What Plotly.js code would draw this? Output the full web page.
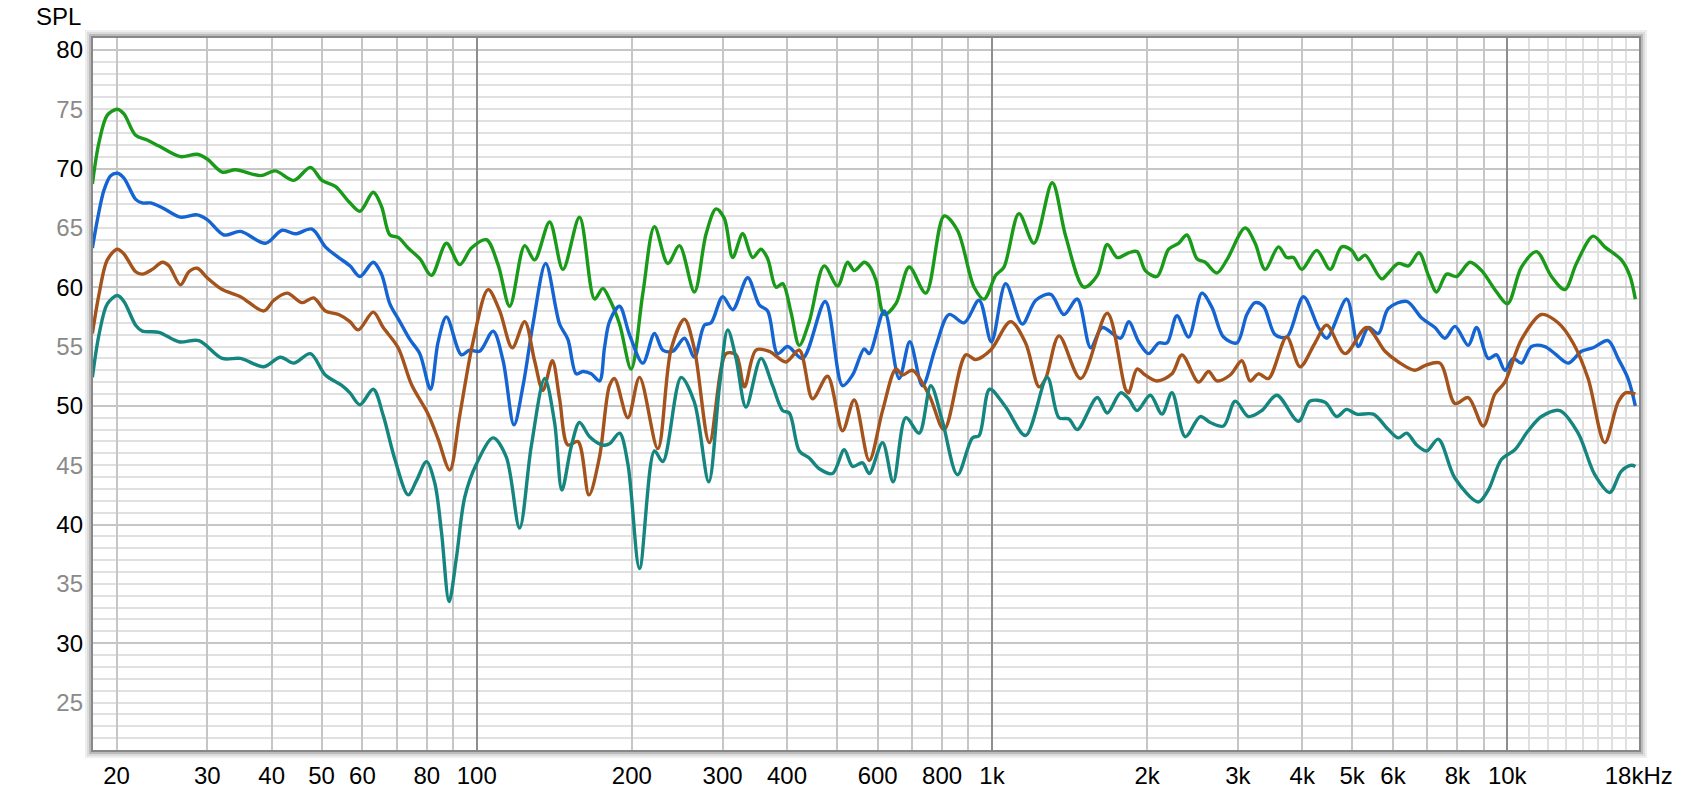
<!DOCTYPE html>
<html>
<head>
<meta charset="utf-8">
<script src="https://cdn.plot.ly/plotly-3.0.1.min.js"></script>
<style>html,body{margin:0;padding:0;background:#fff;}#chart{width:1684px;height:800px;}</style>
</head>
<body>
<div id="chart"></div>
<script>
// ---------- data (frequency in Hz, SPL in dB) ----------
const greenFreq = [17.95,18.49,19.19,20.07,20.67,21.78,22.94,24.17,26.61,28.68,29.98,32.07,34.03,38.05,40.67,44.14,47.55,50.09,53.17,56.5,59.33,62.97,65.35,67.83,70.39,73.61,77.54,81.68,87.34,92.69,97.64,104.4,110.0,115.9,123.9,129.5,138.5,147.0,158.3,169.3,175.7,181.0,189.3,199.4,210.1,221.3,234.9,247.4,264.5,278.7,291.4,302.4,313.9,328.2,343.2,356.2,367.0,380.9,392.4,407.2,422.7,441.9,472.5,501.5,524.4,540.3,564.9,577.8,595.3,617.8,650.8,690.7,744.0,807.4,856.9,923.3,965.2,1017,1055,1128,1206,1309,1390,1508,1601,1674,1750,1842,1912,1984,2090,2202,2302,2390,2499,2593,2732,2856,3100,3241,3389,3597,3733,3846,3992,4268,4530,4772,4990,5141,5296,5705,5879,6148,6428,6741,7028,7294,7627,7975,8463,8916,9533,10012,10657,11395,12184,12932,13622,14675,15459,16652,17284,17726];
const greenSpl = [68.7,72.2,74.5,75.0,74.6,72.8,72.4,71.9,71.0,71.2,70.8,69.7,69.9,69.4,69.8,69.0,70.1,69.0,68.5,67.2,66.4,68.0,66.8,64.4,64.2,63.3,62.4,61.0,63.7,61.9,63.3,64.0,61.9,58.4,63.5,62.3,65.5,61.5,65.9,59.0,59.9,59.0,56.9,53.1,59.5,65.1,62.0,63.5,59.6,64.5,66.6,65.8,62.5,64.5,62.5,63.2,62.4,60.0,60.3,57.9,55.1,57.1,61.8,60.1,62.1,61.4,62.1,61.8,60.6,57.7,58.6,61.7,59.5,66.0,64.8,60.0,59.0,61.0,61.7,66.2,63.7,68.8,64.3,60.0,61.0,63.6,62.5,62.9,63.0,61.4,60.9,63.2,63.7,64.4,62.4,62.1,61.2,62.3,65.0,63.7,61.5,63.4,62.5,62.5,61.5,63.1,61.5,63.4,63.1,62.3,62.7,60.7,61.2,62.0,61.8,62.9,61.0,59.6,61.1,60.9,62.1,61.4,59.6,58.6,61.7,63.0,60.9,59.8,62.0,64.3,63.4,62.3,61.0,59.0];

const blueFreq = [17.95,18.36,18.91,19.48,20.07,20.67,21.78,22.44,23.29,24.53,26.61,28.68,29.98,32.32,34.79,38.90,41.90,44.47,47.91,50.84,53.96,56.74,59.33,62.97,65.35,67.83,70.92,74.16,77.54,81.32,84.15,87.34,93.38,96.92,101.3,107.6,112.5,118.1,123.0,128.6,136.1,144.8,150.3,156.0,160.7,166.8,173.1,177.0,181.0,189.3,197.9,210.1,221.3,229.7,240.2,253.0,264.5,276.6,285.0,300.2,313.9,335.6,353.6,367.0,383.7,401.2,429.0,474.7,512.8,536.3,564.9,577.8,617.8,660.5,692.7,733.0,777.9,825.6,882.8,943.9,997.3,1063,1145,1216,1300,1379,1464,1554,1637,1776,1842,1926,2014,2106,2186,2285,2408,2555,2672,2814,2987,3123,3241,3364,3544,3733,4022,4300,4463,4880,5141,5375,5621,5877,6380,6821,7239,7570,7916,8401,8719,9185,9533,9894,10269,10657,11144,11827,12367,13125,13930,14675,15690,16407,17156,17726];
const blueSpl = [63.3,65.7,68.2,69.4,69.6,69.2,67.4,67.1,67.1,66.7,65.9,66.1,65.7,64.4,64.7,63.7,64.8,64.5,64.9,63.4,62.5,61.8,60.9,62.1,61.1,58.6,57.1,55.6,54.4,51.4,55.4,57.5,54.3,54.7,54.6,56.3,53.8,48.4,51.7,56.9,62.0,56.9,55.6,52.7,52.9,52.7,52.1,54.9,57.1,58.4,56.0,53.6,56.1,54.7,54.6,55.7,54.1,56.8,57.0,59.2,58.1,60.8,58.5,58.0,54.4,55.0,54.0,58.8,51.7,52.6,54.8,54.4,58.0,52.3,55.4,51.7,55.0,57.7,57.0,58.9,55.4,60.3,56.9,58.9,59.4,57.7,59.0,54.9,56.6,55.7,57.1,55.4,54.4,55.3,55.3,57.6,55.8,59.5,58.3,55.8,55.3,57.7,58.7,58.4,56.0,55.8,59.2,56.6,55.7,59.0,55.0,56.6,56.1,58.2,58.8,57.4,56.6,55.7,56.7,55.1,56.6,54.0,54.3,53.0,54.0,53.6,55.0,55.0,54.4,53.6,54.6,54.9,55.5,54.0,52.3,50.0];

const brownFreq = [17.95,18.49,19.19,20.07,20.67,21.78,22.44,23.46,24.53,25.27,26.61,27.63,28.68,29.98,32.07,34.79,38.62,40.38,42.85,45.82,48.26,50.84,53.96,56.74,58.89,62.97,65.84,70.39,74.71,80.48,84.15,88.65,92.69,98.37,105.2,110.8,117.2,123.9,129.5,134.4,140.2,144.8,150.3,157.2,165.1,173.1,181.0,185.1,196.5,207.0,224.6,238.4,253.0,264.5,282.9,304.7,318.6,330.7,348.3,369.7,398.2,422.7,448.6,479.6,512.8,540.3,577.7,613.2,650.8,670.4,701.0,755.2,807.4,889.4,930.0,994.3,1087,1162,1234,1271,1349,1486,1674,1816,1842,1912,1984,2090,2235,2337,2517,2632,2732,2899,3054,3170,3290,3440,3733,3962,4236,4463,4844,5335,5790,6148,6622,6924,7403,7916,8401,8983,9462,9894,10657,11653,12552,13421,14351,15459,16407,16952,17726];
const brownSpl = [56.1,59.4,62.3,63.2,62.8,61.3,61.1,61.5,62.1,61.8,60.2,61.3,61.6,60.8,59.8,59.2,58.0,58.9,59.5,58.7,59.1,58.0,57.7,57.1,56.4,57.9,56.6,54.9,51.8,49.3,47.2,44.6,49.2,55.4,59.8,58.0,54.9,57.1,53.8,51.3,53.8,50.6,46.7,47.0,42.5,45.7,51.7,52.3,49.0,52.4,46.4,54.8,57.3,54.8,46.9,54.4,54.3,51.6,54.7,54.6,53.7,54.7,50.6,52.5,47.9,50.5,45.4,49.6,53.1,52.6,53.0,50.9,48.0,54.3,53.9,54.7,57.1,55.3,51.6,52.3,55.9,52.3,57.8,51.4,51.1,53.1,52.6,52.1,52.7,54.3,52.0,52.9,52.1,52.6,53.8,52.1,52.7,52.3,55.8,53.3,55.3,56.8,54.4,56.6,54.6,53.7,53.0,53.4,53.6,50.2,50.7,48.3,51.0,52.0,55.6,57.7,57.0,55.3,52.3,46.9,50.3,51.1,51.0];

const tealFreq = [17.95,18.49,19.19,20.07,20.67,21.78,22.44,24.17,26.42,28.89,32.07,34.79,38.62,41.60,44.14,47.55,50.84,54.77,56.74,59.33,62.97,65.84,69.36,73.61,76.39,79.88,82.90,85.41,88.38,91.32,94.78,99.85,107.6,114.1,121.1,127.6,135.5,141.6,146.3,152.6,158.3,165.6,175.7,181.0,189.3,196.5,207.0,221.3,229.7,249.3,264.5,282.0,295.8,307.0,318.6,333.1,356.2,375.2,392.4,404.2,422.7,441.9,462.1,490.4,516.7,536.3,560.7,577.8,613.2,643.1,680.5,722.2,760.8,801.4,856.9,916.2,943.9,989.9,1063,1162,1280,1349,1410,1464,1601,1674,1776,1842,1912,2029,2137,2235,2372,2536,2652,2814,2965,3146,3339,3570,3933,4143,4430,4667,4880,5102,5497,5877,6148,6380,6672,6975,7348,7916,8784,9185,9747,10345,10980,11653,12646,13725,14784,15807,16652,17413,17726];
const tealSpl = [52.4,56.0,58.6,59.3,58.8,56.8,56.3,56.2,55.4,55.5,54.0,54.0,53.3,54.1,53.6,54.4,52.6,51.7,51.1,50.1,51.4,49.2,45.5,42.5,43.7,45.3,43.5,39.4,33.5,37.2,42.3,45.1,47.3,45.7,39.7,46.6,52.3,48.6,42.9,46.6,48.6,47.4,46.7,46.8,47.7,45.1,36.3,46.2,45.3,52.4,50.3,43.6,51.6,56.4,54.0,49.9,54.0,51.7,49.6,49.4,46.2,45.6,44.7,44.3,46.3,44.9,45.2,44.3,46.9,43.6,49.0,47.7,51.7,48.7,44.2,47.3,47.5,51.4,49.9,47.5,52.4,49.0,48.9,48.0,50.7,49.4,51.1,50.6,49.6,50.9,49.3,51.1,47.4,49.1,48.6,48.3,50.4,49.1,49.6,50.9,48.7,50.4,50.3,49.1,49.7,49.3,49.3,48.0,47.3,47.7,46.7,46.2,47.2,43.9,41.9,42.9,45.5,46.3,47.9,49.1,49.6,47.7,44.2,42.7,44.5,45.0,44.9];

// ---------- axis ticks ----------
const xTickVals  = [20,30,40,50,60,70,80,90,200,300,400,500,600,700,800,900,2000,3000,4000,5000,6000,7000,8000,9000,18000];
const xTickText  = ['20','30','40','50','60','','80','','200','300','400','','600','','800','','2k','3k','4k','5k','6k','','8k','','18kHz'];
const xDecadeVals = [100,1000,10000];
const xDecadeText = ['100','1k','10k'];
const xFineVals  = [11000,12000,13000,14000,15000,16000,17000];
const yMajorVals = [30,40,50,60,70,80];
const yMajorText = ['30','40','50','60','70','80'];
const yHalfVals  = [25,35,45,55,65,75];
const yHalfText  = ['25','35','45','55','65','75'];

const COL_GREEN = '#199a19', COL_BLUE = '#1464d2', COL_BROWN = '#a3531b', COL_TEAL = '#14857f';
const xRange = [Math.log10(18), Math.log10(18000) + 0.0004];
const yRange = [21, 81];

function line(x, y, color, xa, ya) {
  return {x: x, y: y, type: 'scatter', mode: 'lines', xaxis: xa, yaxis: ya,
          line: {color: color, width: 3.4, shape: 'spline', smoothing: 0.9},
          hoverinfo: 'skip'};
}
const traces = [
  line(greenFreq, greenSpl, COL_GREEN, 'x', 'y'),
  line(blueFreq, blueSpl, COL_BLUE, 'x', 'y'),
  line(brownFreq, brownSpl, COL_BROWN, 'x', 'y'),
  line(tealFreq, tealSpl, COL_TEAL, 'x2', 'y2')
];

const W = 1546, H = 712;
function frame(off, color) {
  return {type: 'rect', xref: 'paper', yref: 'paper', layer: 'above',
          x0: -off / W, x1: 1 + off / W, y0: -off / H, y1: 1 + off / H,
          line: {color: color, width: 2}, fillcolor: 'rgba(0,0,0,0)'};
}
const FONT = 'Liberation Sans, Arial, sans-serif';
const FS = 24;
const layout = {
  width: 1684, height: 800,
  margin: {l: 93, r: 45, t: 38, b: 50, pad: 0},
  paper_bgcolor: '#ffffff', plot_bgcolor: '#ffffff',
  showlegend: false, hovermode: false,
  font: {family: FONT, size: FS, color: '#000'},
  xaxis: {type: 'log', range: xRange, tickmode: 'array', tickvals: xTickVals, ticktext: xTickText,
          ticks: '', showgrid: true, gridcolor: '#c6c6c6', gridwidth: 2, zeroline: false, showline: false,
          ticklabelstandoff: 9, tickfont: {family: FONT, size: FS, color: '#000'},
          minor: {tickmode: 'array', tickvals: xFineVals, showgrid: true, gridcolor: '#e0e0e0', gridwidth: 2, ticks: ''}},
  xaxis2: {type: 'log', overlaying: 'x', side: 'bottom', range: xRange, tickmode: 'array',
           tickvals: xDecadeVals, ticktext: xDecadeText, ticks: '', showgrid: true, gridcolor: '#8e8e8e', gridwidth: 2,
           zeroline: false, showline: false, ticklabelstandoff: 9, tickfont: {family: FONT, size: FS, color: '#000'}},
  yaxis: {range: yRange, tickmode: 'array', tickvals: yMajorVals, ticktext: yMajorText, ticks: '',
          showgrid: true, gridcolor: '#c6c6c6', gridwidth: 2, zeroline: false, showline: false,
          ticklabelstandoff: 9, tickfont: {family: FONT, size: FS, color: '#000'},
          minor: {dtick: 1, tick0: 0, showgrid: true, gridcolor: '#e0e0e0', gridwidth: 2, ticks: ''}},
  yaxis2: {overlaying: 'y', side: 'left', range: yRange, tickmode: 'array', tickvals: yHalfVals, ticktext: yHalfText,
           ticks: '', showgrid: false, zeroline: false, showline: false, ticklabelstandoff: 9,
           tickfont: {family: FONT, size: FS, color: '#8a8a8a'}},
  shapes: [frame(7, '#eeeeee'), frame(5, '#dcdcdc'), frame(3, '#bbbbbb'), frame(1, '#888888')],
  annotations: [{text: 'SPL', xref: 'paper', yref: 'paper', x: (58.5 - 93) / W, y: 1 + (38 - 16.7) / H,
                 xanchor: 'center', yanchor: 'middle', showarrow: false,
                 font: {family: FONT, size: FS, color: '#000'}}]
};
Plotly.newPlot('chart', traces, layout, {staticPlot: true, displayModeBar: false});
</script>
</body>
</html>
